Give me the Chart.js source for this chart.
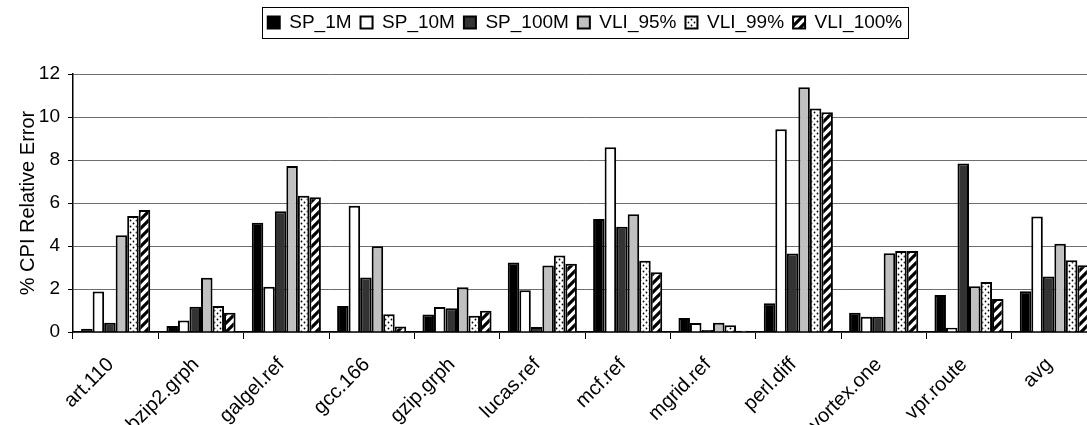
<!DOCTYPE html>
<html>
<head>
<meta charset="utf-8">
<script src="https://cdn.jsdelivr.net/npm/chart.js@4.4.1/dist/chart.umd.min.js"></script>
<style>
  html, body { margin: 0; padding: 0; background: #fff; overflow: hidden; }
  #wrap { width: 1087px; height: 425px; overflow: hidden; }
  canvas { display: block; }
</style>
</head>
<body>
<div id="wrap"><canvas id="chartErr" width="1100" height="425"></canvas></div>
<script>
/* % CPI relative error per benchmark — SP vs VLI */

const benchmarks = ['art.110', 'bzip2.grph', 'galgel.ref', 'gcc.166', 'gzip.grph', 'lucas.ref',
  'mcf.ref', 'mgrid.ref', 'perl.diff', 'vortex.one', 'vpr.route', 'avg'];

const sp1M    = [0.15, 0.28, 5.08, 1.21, 0.81, 3.23, 5.26, 0.65, 1.34, 0.89, 1.72, 1.89];
const sp10M   = [1.88, 0.53, 2.10, 5.87, 1.16, 1.94, 8.59, 0.42, 9.43, 0.71, 0.20, 5.37];
const sp100M  = [0.43, 1.18, 5.62, 2.53, 1.10, 0.23, 4.89, 0.09, 3.65, 0.71, 7.84, 2.58];
const vli95   = [4.50, 2.52, 7.72, 3.99, 2.08, 3.09, 5.48, 0.43, 11.38, 3.66, 2.13, 4.10];
const vli99   = [5.39, 1.21, 6.34, 0.82, 0.76, 3.56, 3.31, 0.31, 10.40, 3.77, 2.33, 3.34];
const vli100  = [5.68, 0.90, 6.27, 0.26, 0.99, 3.17, 2.78, 0.06, 10.22, 3.77, 1.54, 3.10];

const yTicks = [0, 2, 4, 6, 8, 10, 12];

const FONT = "'Liberation Sans', Arial, sans-serif";

function dotPattern() {
  const c = document.createElement('canvas');
  c.width = 6; c.height = 6;
  const g = c.getContext('2d');
  g.fillStyle = '#fff';
  g.fillRect(0, 0, 6, 6);
  g.fillStyle = '#000';
  g.beginPath();
  g.arc(1.5, 1.5, 0.9, 0, Math.PI * 2);
  g.arc(4.5, 4.5, 0.9, 0, Math.PI * 2);
  g.fill();
  return g.createPattern(c, 'repeat');
}

function stripePattern() {
  const s = 9;
  const c = document.createElement('canvas');
  c.width = s; c.height = s;
  const g = c.getContext('2d');
  g.fillStyle = '#fff';
  g.fillRect(0, 0, s, s);
  g.strokeStyle = '#000';
  g.lineWidth = 3.2;
  g.beginPath();
  g.moveTo(-2, s + 2); g.lineTo(s + 2, -2);
  g.moveTo(-2, 2); g.lineTo(2, -2);
  g.moveTo(s - 2, s + 2); g.lineTo(s + 2, s - 2);
  g.stroke();
  return g.createPattern(c, 'repeat');
}

const series = [
  { label: 'SP_1M',    data: sp1M,   fill: '#000000' },
  { label: 'SP_10M',   data: sp10M,  fill: '#ffffff' },
  { label: 'SP_100M',  data: sp100M, fill: '#333333' },
  { label: 'VLI_95%',  data: vli95,  fill: '#c0c0c0' },
  { label: 'VLI_99%',  data: vli99,  fill: dotPattern() },
  { label: 'VLI_100%', data: vli100, fill: stripePattern() }
];

// legend gets extra height so the plot starts lower; border drawn round the items
const legendBox = {
  id: 'legendBox',
  beforeInit(chart) {
    const fit = chart.legend.fit;
    chart.legend.fit = function () {
      fit.call(chart.legend);
      this.height = 70;
    };
  },
  afterDraw(chart) {
    const hb = chart.legend && chart.legend.legendHitBoxes;
    if (!hb || !hb.length) return;
    const left = Math.min(...hb.map(h => h.left)) - 6;
    const right = Math.max(...hb.map(h => h.left + h.width)) + 5;
    const cy = hb[0].top + hb[0].height / 2;
    const ctx = chart.ctx;
    ctx.save();
    ctx.strokeStyle = '#000';
    ctx.lineWidth = 1;
    ctx.strokeRect(Math.round(left) + 0.5, Math.round(cy - 15.5) + 0.5, Math.round(right - left), 31);
    ctx.restore();
  }
};

new Chart(document.getElementById('chartErr'), {
  type: 'bar',
  data: {
    labels: benchmarks,
    datasets: series.map(s => ({
      label: s.label,
      data: s.data,
      backgroundColor: s.fill,
      borderColor: '#000',
      borderWidth: 2,
      categoryPercentage: 0.81,
      barPercentage: 1.0
    }))
  },
  options: {
    responsive: false,
    animation: false,
    layout: { padding: { top: 4, right: 3, left: 0, bottom: 0 } },
    plugins: {
      legend: {
        position: 'top',
        fullSize: false,
        labels: {
          color: '#000',
          font: { family: FONT, size: 19 },
          boxWidth: 12,
          boxHeight: 12,
          padding: 9
        }
      },
      tooltip: { enabled: false }
    },
    scales: {
      x: {
        offset: true,
        grid: { display: true, offset: true, drawOnChartArea: false, tickLength: 7, tickColor: '#000', lineWidth: 1 },
        border: { color: '#000', width: 1.5 },
        ticks: {
          color: '#000',
          font: { family: FONT, size: 20 },
          minRotation: 45,
          maxRotation: 45,
          autoSkip: false,
          padding: 14,
          labelOffset: -5
        },
        afterFit(scale) { scale.height = 93; }
      },
      y: {
        min: 0,
        max: 12,
        afterBuildTicks(scale) { scale.ticks = yTicks.map(v => ({ value: v })); },
        grid: { color: '#6e6e6e', lineWidth: 1, tickLength: 5, tickColor: '#000' },
        border: { color: '#000', width: 1.5 },
        ticks: {
          color: '#000',
          font: { family: FONT, size: 19 },
          padding: 8
        },
        title: {
          display: true,
          text: '% CPI Relative Error',
          color: '#000',
          font: { family: FONT, size: 20 },
          padding: { top: 16, bottom: 0 }
        },
        afterFit(scale) { scale.width = 73; }
      }
    }
  },
  plugins: [legendBox]
});
</script>
</body>
</html>
